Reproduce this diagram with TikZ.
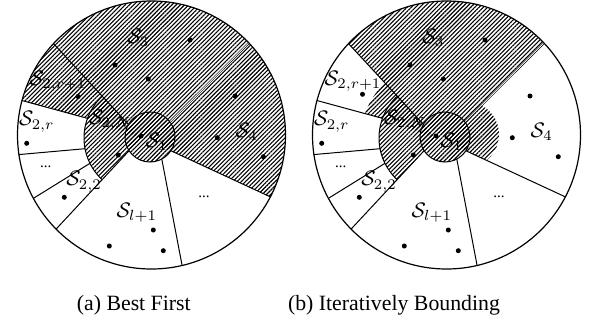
\documentclass[tikz,border=0pt]{standalone}
\usepackage{fix-cm}
\usepackage{fontspec}
\setmainfont{Liberation Serif}
\usetikzlibrary{calc,patterns.meta}

\tikzset{
  hatch/.style={pattern={Lines[angle=45,distance=1.5pt,line width=0.55pt]}},
  part/.style={line width=0.5pt},
  rim/.style={line width=0.6pt},
  seam/.style={double, double distance=0.45pt, line width=0.3pt},
  pt/.style={fill=black},
  lab/.style={inner sep=0pt, font=\fontsize{10.5}{12}\selectfont},
  gap/.style={inner sep=0pt, font=\fontsize{7.5}{9}\selectfont},
  subcap/.style={inner sep=0pt, font=\fontsize{10.9}{13}\selectfont},
}

% Geometry shared by both panels (units: 1 = 0.5pt, y grows downwards)
\newcommand\panelcoords{%
  \coordinate (O) at (151.5,135);
  \coordinate (c1) at (150,137);
  \coordinate (c2) at (141,138);
  \coordinate (Aout) at ($(O)+(-137:134)$);
  \coordinate (Ain) at (128.4,124.4);
  \coordinate (Bout) at ($(O)+(-43.4:134)$);
  \coordinate (Bin) at (170,121.7);
  \coordinate (Cout) at ($(O)+(27.5:134)$);
  \coordinate (Cin) at (171.2,150.9);
  \coordinate (Dout) at ($(O)+(76.8:134)$);
  \coordinate (Din) at (161.8,159.1);
  \coordinate (Eout) at ($(O)+(135.4:134)$);
  \coordinate (Ein) at (129.1,150.7);
  \coordinate (Fout) at ($(O)+(151.8:134)$);
  \coordinate (Fin) at (90,163.3);
  \coordinate (Gout) at ($(O)+(171.6:134)$);
  \coordinate (Gin) at (85,148.7);
  \coordinate (Hout) at ($(O)+(194.9:134)$);
  \coordinate (Hin) at (87.3,118.3);
}

% Region labels
\newcommand\panellabels{%
  \node[lab] (lS3) at (138.3,37.5) {$\mathcal{S}_3$};
  \node[lab] (lS2r1) at (58,81) {$\mathcal{S}_{2,r+1}$};
  \node[lab] (lS2r) at (36.7,121.7) {$\mathcal{S}_{2,r}$};
  \node[gap] (lgapL) at (45.8,167) {...};
  \node[lab] (lS22) at (84,181.7) {$\mathcal{S}_{2,2}$};
  \node[lab] (lSl1) at (136.7,212.5) {$\mathcal{S}_{l+1}$};
  \node[gap] (lgapR) at (204,196.5) {...};
  \node[lab] (lS4) at (246.7,131.7) {$\mathcal{S}_4$};
  \node[lab] (lS1) at (156.7,141.7) {$\mathcal{S}_1$};
  \node[lab] (lS2N) at (110,120) {$\mathcal{S}_{2,N}$};
}

% Partition lines, the two balls and the outer rim
\newcommand\panellines{%
  \draw[part] (Aout) -- (Ain);
  \draw[seam] (Bout) -- (Bin);
  \draw[part] (Cout) -- (Cin);
  \draw[part] (Dout) -- (Din);
  \draw[part] (Eout) -- (Ein);
  \draw[part] (Fout) -- (Fin);
  \draw[part] (Gout) -- (Gin);
  \draw[part] (Hout) -- (Hin);
  \draw[part] ($(c2)+(133:57)$) arc[start angle=133, end angle=227.2, radius=57];
  \draw[part] (c1) circle[radius=25];
  \draw[rim] (O) circle[radius=134];
}

% Sample points common to both panels
\newcommand\paneldots{%
  \foreach \p in {(190,40),(115,65),(148.3,79),
                  (235,96),(217.3,137.7),(263.3,156.7),
                  (141,136),(118.3,155),(26.7,143.3),(64.3,197.3),
                  (153.3,230),(109.3,246),(163.3,250.7)}
    \fill[pt] \p circle[radius=2.5];
}

% Hatched ball S_{2,N} and S_1
\newcommand\ballhatch{%
  \fill[hatch] (c2) -- ($(c2)+(133:57)$) arc[start angle=133, end angle=227.2, radius=57] -- cycle;
  \fill[hatch] (c1) circle[radius=25];
}

\begin{document}
\begin{tikzpicture}[x=0.5pt,y=-0.5pt]
\useasboundingbox (0,0) rectangle (589,321);

% (a) best first
\begin{scope}[name prefix=a-]
  \panelcoords
  \panellabels
  \begin{scope}
    \clip (O) circle[radius=134];
    \fill[hatch] (Hin) -- ($(Hin)!2!(Hout)$) -- (-30,-30) -- (330,-30)
      -- ($(Cin)!2!(Cout)$) -- (Cin) -- (c1) -- (c2) -- cycle;
  \end{scope}
  \ballhatch
  \panellines
  \paneldots
  \fill[pt] (78,96.5) circle[radius=2.5];
  \node[subcap] (capa) at (133.8,305) {(a) Best First};
\end{scope}

% (b) iteratively bounding
\begin{scope}[shift={(295,0)}, name prefix=b-]
  \panelcoords
  \panellabels
  \begin{scope}
    \clip (O) circle[radius=134];
    \fill[hatch] (c1) -- (Ain) -- ($(Ain)!2!(Aout)$) -- ($(Bin)!2!(Bout)$) -- (Bin) -- cycle;
  \end{scope}
  \begin{scope}
    \clip (c2) -- (Hin) -- ($(Hin)!3!(Hout)$) -- ($(c2)!3!(Aout)$) -- cycle;
    \fill[hatch] (c2) circle[radius=75];
  \end{scope}
  \begin{scope}
    \clip (c1) -- (Bin) -- ($(Bin)!3!(Bout)$) -- ($(Cin)!3!(Cout)$) -- (Cin) -- cycle;
    \fill[hatch] (171,134.5) circle[radius=33];
  \end{scope}
  \ballhatch
  \panellines
  \paneldots
  \fill[pt] (67.5,94.3) circle[radius=2.5];
  \node[subcap] (capb) at (99,305) {(b) Iteratively Bounding};
\end{scope}
\end{tikzpicture}
\end{document}
